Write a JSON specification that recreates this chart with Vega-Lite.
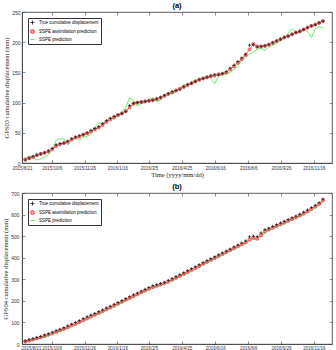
{
  "$schema": "https://vega.github.io/schema/vega-lite/v6.json",
  "padding": {"left": 2, "top": 1, "right": 3, "bottom": 0},
  "spacing": 3,
  "datasets": {
    "a": [
      {"d":"2015-08-26","T":5,"A":6,"P":6},{"d":"2015-09-01","T":8,"A":8,"P":12},{"d":"2015-09-07","T":11,"A":10,"P":9},{"d":"2015-09-13","T":13,"A":13,"P":5},{"d":"2015-09-19","T":15,"A":15,"P":7},{"d":"2015-09-25","T":17,"A":17,"P":10},
      {"d":"2015-10-01","T":20,"A":19,"P":14},{"d":"2015-10-07","T":24,"A":23,"P":22},{"d":"2015-10-13","T":30,"A":28,"P":38},{"d":"2015-10-19","T":32,"A":31,"P":40},{"d":"2015-10-25","T":33,"A":33,"P":40},{"d":"2015-10-31","T":36,"A":35,"P":30},
      {"d":"2015-11-06","T":40,"A":39,"P":36},{"d":"2015-11-12","T":43,"A":42,"P":44},{"d":"2015-11-18","T":45,"A":44,"P":38},{"d":"2015-11-24","T":47,"A":47,"P":43},{"d":"2015-11-30","T":50,"A":49,"P":44},
      {"d":"2015-12-06","T":54,"A":52,"P":48},{"d":"2015-12-12","T":57,"A":56,"P":60},{"d":"2015-12-18","T":60,"A":59,"P":66},{"d":"2015-12-24","T":65,"A":63,"P":66},{"d":"2015-12-30","T":70,"A":68,"P":70},
      {"d":"2016-01-05","T":74,"A":72,"P":75},{"d":"2016-01-11","T":77,"A":76,"P":72},{"d":"2016-01-17","T":80,"A":79,"P":80},{"d":"2016-01-23","T":82,"A":82,"P":84},{"d":"2016-01-29","T":85,"A":86,"P":92},
      {"d":"2016-02-04","T":95,"A":92,"P":108},{"d":"2016-02-10","T":99,"A":98,"P":104},{"d":"2016-02-16","T":100,"A":100,"P":94},{"d":"2016-02-22","T":101,"A":101,"P":98},{"d":"2016-02-28","T":102,"A":102,"P":100},
      {"d":"2016-03-05","T":103,"A":103,"P":105},{"d":"2016-03-11","T":104,"A":104,"P":108},{"d":"2016-03-17","T":106,"A":106,"P":102},{"d":"2016-03-23","T":109,"A":108,"P":104},{"d":"2016-03-29","T":112,"A":111,"P":112},
      {"d":"2016-04-04","T":115,"A":114,"P":116},{"d":"2016-04-10","T":118,"A":117,"P":114},{"d":"2016-04-16","T":120,"A":120,"P":118},{"d":"2016-04-22","T":122,"A":123,"P":124},{"d":"2016-04-28","T":126,"A":126,"P":130},
      {"d":"2016-05-04","T":130,"A":129,"P":128},{"d":"2016-05-10","T":132,"A":132,"P":134},{"d":"2016-05-16","T":135,"A":135,"P":138},{"d":"2016-05-22","T":138,"A":138,"P":136},{"d":"2016-05-28","T":140,"A":140,"P":141},
      {"d":"2016-06-03","T":142,"A":142,"P":144},{"d":"2016-06-09","T":144,"A":144,"P":140},{"d":"2016-06-15","T":146,"A":145,"P":131},{"d":"2016-06-21","T":146,"A":147,"P":144},{"d":"2016-06-27","T":148,"A":148,"P":146},
      {"d":"2016-07-03","T":151,"A":150,"P":147},{"d":"2016-07-09","T":157,"A":155,"P":150},{"d":"2016-07-15","T":162,"A":160,"P":155},{"d":"2016-07-21","T":168,"A":166,"P":160},{"d":"2016-07-27","T":174,"A":172,"P":170},
      {"d":"2016-08-02","T":180,"A":179,"P":175},{"d":"2016-08-08","T":195,"A":188,"P":180},{"d":"2016-08-14","T":196,"A":197,"P":184},{"d":"2016-08-20","T":192,"A":193,"P":188},{"d":"2016-08-26","T":193,"A":193,"P":190},
      {"d":"2016-09-01","T":194,"A":194,"P":186},{"d":"2016-09-07","T":196,"A":196,"P":192},{"d":"2016-09-13","T":199,"A":199,"P":195},{"d":"2016-09-19","T":202,"A":202,"P":198},{"d":"2016-09-25","T":205,"A":205,"P":202},
      {"d":"2016-10-01","T":208,"A":208,"P":206},{"d":"2016-10-07","T":210,"A":210,"P":215},{"d":"2016-10-13","T":213,"A":213,"P":222},{"d":"2016-10-19","T":216,"A":216,"P":217},{"d":"2016-10-25","T":218,"A":218,"P":215},{"d":"2016-10-31","T":221,"A":221,"P":220},
      {"d":"2016-11-06","T":224,"A":224,"P":218},{"d":"2016-11-12","T":227,"A":227,"P":208},{"d":"2016-11-18","T":229,"A":229,"P":222},{"d":"2016-11-24","T":232,"A":232,"P":226},{"d":"2016-11-30","T":235,"A":235,"P":224}
    ],
    "b": [
      {"d":"2015-08-26","T":14,"A":12,"P":8},{"d":"2015-09-01","T":20,"A":16,"P":12},{"d":"2015-09-07","T":25,"A":21,"P":16},{"d":"2015-09-13","T":30,"A":26,"P":22},{"d":"2015-09-19","T":35,"A":31,"P":27},{"d":"2015-09-25","T":42,"A":37,"P":32},
      {"d":"2015-10-01","T":47,"A":43,"P":38},{"d":"2015-10-07","T":55,"A":49,"P":44},{"d":"2015-10-13","T":62,"A":56,"P":51},{"d":"2015-10-19","T":68,"A":63,"P":57},{"d":"2015-10-25","T":75,"A":70,"P":64},{"d":"2015-10-31","T":84,"A":78,"P":72},
      {"d":"2015-11-06","T":92,"A":86,"P":80},{"d":"2015-11-12","T":100,"A":94,"P":88},{"d":"2015-11-18","T":108,"A":102,"P":96},{"d":"2015-11-24","T":118,"A":111,"P":105},{"d":"2015-11-30","T":126,"A":119,"P":113},
      {"d":"2015-12-06","T":134,"A":128,"P":121},{"d":"2015-12-12","T":141,"A":136,"P":130},{"d":"2015-12-18","T":150,"A":144,"P":138},{"d":"2015-12-24","T":158,"A":152,"P":146},{"d":"2015-12-30","T":167,"A":161,"P":155},
      {"d":"2016-01-05","T":175,"A":169,"P":163},{"d":"2016-01-11","T":184,"A":178,"P":172},{"d":"2016-01-17","T":192,"A":187,"P":181},{"d":"2016-01-23","T":201,"A":196,"P":190},{"d":"2016-01-29","T":210,"A":205,"P":199},
      {"d":"2016-02-04","T":219,"A":213,"P":207},{"d":"2016-02-10","T":228,"A":222,"P":216},{"d":"2016-02-16","T":236,"A":231,"P":225},{"d":"2016-02-22","T":245,"A":240,"P":234},{"d":"2016-02-28","T":253,"A":248,"P":242},
      {"d":"2016-03-05","T":262,"A":256,"P":250},{"d":"2016-03-11","T":270,"A":264,"P":258},{"d":"2016-03-17","T":275,"A":270,"P":265},{"d":"2016-03-23","T":280,"A":276,"P":271},{"d":"2016-03-29","T":286,"A":282,"P":277},
      {"d":"2016-04-04","T":295,"A":289,"P":284},{"d":"2016-04-10","T":303,"A":298,"P":292},{"d":"2016-04-16","T":312,"A":307,"P":301},{"d":"2016-04-22","T":321,"A":316,"P":310},{"d":"2016-04-28","T":330,"A":325,"P":319},
      {"d":"2016-05-04","T":340,"A":334,"P":328},{"d":"2016-05-10","T":349,"A":343,"P":337},{"d":"2016-05-16","T":358,"A":352,"P":346},{"d":"2016-05-22","T":367,"A":362,"P":356},{"d":"2016-05-28","T":377,"A":372,"P":366},
      {"d":"2016-06-03","T":386,"A":381,"P":375},{"d":"2016-06-09","T":395,"A":390,"P":384},{"d":"2016-06-15","T":404,"A":399,"P":393},{"d":"2016-06-21","T":413,"A":408,"P":402},{"d":"2016-06-27","T":422,"A":417,"P":411},
      {"d":"2016-07-03","T":431,"A":426,"P":420},{"d":"2016-07-09","T":440,"A":435,"P":429},{"d":"2016-07-15","T":450,"A":444,"P":438},{"d":"2016-07-21","T":459,"A":453,"P":447},{"d":"2016-07-27","T":468,"A":462,"P":456},
      {"d":"2016-08-02","T":478,"A":471,"P":465},{"d":"2016-08-08","T":497,"A":484,"P":476},{"d":"2016-08-14","T":500,"A":492,"P":485},{"d":"2016-08-20","T":498,"A":488,"P":486},{"d":"2016-08-26","T":515,"A":505,"P":497},
      {"d":"2016-09-01","T":530,"A":522,"P":514},{"d":"2016-09-07","T":537,"A":531,"P":525},{"d":"2016-09-13","T":545,"A":539,"P":533},{"d":"2016-09-19","T":553,"A":547,"P":541},{"d":"2016-09-25","T":561,"A":555,"P":549},
      {"d":"2016-10-01","T":569,"A":563,"P":557},{"d":"2016-10-07","T":577,"A":571,"P":565},{"d":"2016-10-13","T":585,"A":579,"P":573},{"d":"2016-10-19","T":593,"A":587,"P":581},{"d":"2016-10-25","T":601,"A":596,"P":589},{"d":"2016-10-31","T":611,"A":605,"P":598},
      {"d":"2016-11-06","T":621,"A":615,"P":608},{"d":"2016-11-12","T":632,"A":626,"P":619},{"d":"2016-11-18","T":643,"A":637,"P":630},{"d":"2016-11-24","T":655,"A":649,"P":641},{"d":"2016-11-30","T":672,"A":666,"P":658}
    ]
  },
  "resolve": {"scale": {"color": "independent", "shape": "independent", "x": "independent", "y": "independent"}, "legend": {"color": "independent", "shape": "independent"}},
  "vconcat": [
    {
      "title": {"text": "(a)"},
      "width": 310, "height": 151,
      "data": {"name": "a"},
      "resolve": {"axis": {"x": "independent", "y": "independent"}},
      "layer": [
        {
          "mark": {"type": "line", "color": "#3ded3d", "strokeWidth": 0.8},
          "encoding": {
            "x": {"field": "d", "type": "temporal", "scale": {"domain": [{"year": 2015, "month": 8, "date": 21}, {"year": 2016, "month": 12, "date": 14}]},
              "axis": {"orient": "top", "labels": false, "title": null, "domain": false, "tickSize": -3,
                "values": [{"year":2015,"month":8,"date":21},{"year":2015,"month":10,"date":6},{"year":2015,"month":11,"date":26},{"year":2016,"month":1,"date":16},{"year":2016,"month":3,"date":5},{"year":2016,"month":4,"date":25},{"year":2016,"month":6,"date":16},{"year":2016,"month":8,"date":6},{"year":2016,"month":9,"date":26},{"year":2016,"month":11,"date":16}]}},
            "y": {"field": "P", "type": "quantitative", "scale": {"domain": [0, 250], "nice": false},
              "axis": {"orient": "right", "labels": false, "title": null, "domain": false, "tickSize": -3, "values": [0, 50, 100, 150, 200, 250]}}
          }
        },
        {
          "mark": {"type": "line", "color": "#e8383d", "strokeWidth": 0.8},
          "encoding": {
            "x": {"field": "d", "type": "temporal",
              "axis": {"orient": "bottom", "title": "Time  (yyyy/mm/dd)", "format": "%Y/%-m/%-d", "tickSize": -3, "labelPadding": 5, "labelOverlap": false, "labelFlush": false, "labelFontSize": 4.5,
                "values": [{"year":2015,"month":8,"date":21},{"year":2015,"month":10,"date":6},{"year":2015,"month":11,"date":26},{"year":2016,"month":1,"date":16},{"year":2016,"month":3,"date":5},{"year":2016,"month":4,"date":25},{"year":2016,"month":6,"date":16},{"year":2016,"month":8,"date":6},{"year":2016,"month":9,"date":26},{"year":2016,"month":11,"date":16}]}},
            "y": {"field": "A", "type": "quantitative",
              "axis": {"orient": "left", "title": "GPS03  cumulative displacement  (mm)", "tickSize": -3, "labelPadding": 5, "values": [0, 50, 100, 150, 200, 250]}}
          }
        },
        {
          "transform": [{"fold": ["A", "T"], "as": ["s", "v"]}],
          "mark": {"type": "point", "filled": false, "fill": "#f49a9a", "strokeWidth": 0.7, "size": 10, "opacity": 1},
          "encoding": {
            "x": {"field": "d", "type": "temporal", "axis": null},
            "y": {"field": "v", "type": "quantitative", "axis": null},
            "color": {"field": "s", "type": "nominal", "scale": {"domain": ["T", "A", "P"], "range": ["#111111", "#e8383d", "#3ded3d"]},
              "legend": {"title": null, "orient": "top-left", "offset": 6, "fillColor": "white", "strokeColor": "#333", "padding": 2, "labelFontSize": 4.5, "labelFont": "Liberation Sans", "symbolSize": 16, "rowPadding": 0, "symbolStrokeWidth": 0.8,
                "labelExpr": "datum.label == 'T' ? 'True cumulative displacement' : datum.label == 'A' ? 'SSPE assimilation prediction' : 'SSPE prediction'"}},
            "shape": {"field": "s", "type": "nominal", "scale": {"domain": ["T", "A", "P"], "range": ["M-1,0H1M0,-1V1", "circle", "stroke"]}}
          }
        }
      ]
    },
    {
      "title": {"text": "(b)"},
      "width": 310, "height": 151,
      "data": {"name": "b"},
      "resolve": {"axis": {"x": "independent", "y": "independent"}},
      "layer": [
        {
          "mark": {"type": "line", "color": "#3ded3d", "strokeWidth": 0.8},
          "encoding": {
            "x": {"field": "d", "type": "temporal", "scale": {"domain": [{"year": 2015, "month": 8, "date": 21}, {"year": 2016, "month": 12, "date": 14}]},
              "axis": {"orient": "top", "labels": false, "title": null, "domain": false, "tickSize": -3,
                "values": [{"year":2015,"month":8,"date":21},{"year":2015,"month":10,"date":6},{"year":2015,"month":11,"date":26},{"year":2016,"month":1,"date":16},{"year":2016,"month":3,"date":5},{"year":2016,"month":4,"date":25},{"year":2016,"month":6,"date":16},{"year":2016,"month":8,"date":6},{"year":2016,"month":9,"date":26},{"year":2016,"month":11,"date":16}]}},
            "y": {"field": "P", "type": "quantitative", "scale": {"domain": [0, 700], "nice": false},
              "axis": {"orient": "right", "labels": false, "title": null, "domain": false, "tickSize": -3, "values": [0, 100, 200, 300, 400, 500, 600, 700]}}
          }
        },
        {
          "mark": {"type": "line", "color": "#e8383d", "strokeWidth": 0.8},
          "encoding": {
            "x": {"field": "d", "type": "temporal",
              "axis": {"orient": "bottom", "title": null, "format": "%Y/%-m/%-d", "tickSize": -3, "labelPadding": 4, "labelOverlap": false, "labelFlush": true, "labelFlushOffset": 1, "labelFontSize": 4.5,
                "values": [{"year":2015,"month":8,"date":21},{"year":2015,"month":10,"date":6},{"year":2015,"month":11,"date":26},{"year":2016,"month":1,"date":16},{"year":2016,"month":3,"date":5},{"year":2016,"month":4,"date":25},{"year":2016,"month":6,"date":16},{"year":2016,"month":8,"date":6},{"year":2016,"month":9,"date":26},{"year":2016,"month":11,"date":16}]}},
            "y": {"field": "A", "type": "quantitative",
              "axis": {"orient": "left", "title": "GPS04  cumulative displacement  (mm)", "tickSize": -3, "labelPadding": 6, "values": [0, 100, 200, 300, 400, 500, 600, 700]}}
          }
        },
        {
          "transform": [{"fold": ["A", "T"], "as": ["s", "v"]}],
          "mark": {"type": "point", "filled": false, "fill": "#f49a9a", "strokeWidth": 0.7, "size": 10, "opacity": 1},
          "encoding": {
            "x": {"field": "d", "type": "temporal", "axis": null},
            "y": {"field": "v", "type": "quantitative", "axis": null},
            "color": {"field": "s", "type": "nominal", "scale": {"domain": ["T", "A", "P"], "range": ["#111111", "#e8383d", "#3ded3d"]},
              "legend": {"title": null, "orient": "top-left", "offset": 6, "fillColor": "white", "strokeColor": "#333", "padding": 2, "labelFontSize": 4.5, "labelFont": "Liberation Sans", "symbolSize": 16, "rowPadding": 0, "symbolStrokeWidth": 0.8,
                "labelExpr": "datum.label == 'T' ? 'True cumulative displacement' : datum.label == 'A' ? 'SSPE assimilation prediction' : 'SSPE prediction'"}},
            "shape": {"field": "s", "type": "nominal", "scale": {"domain": ["T", "A", "P"], "range": ["M-1,0H1M0,-1V1", "circle", "stroke"]}}
          }
        }
      ]
    }
  ],
  "config": {
    "view": {"stroke": "#333", "strokeWidth": 0.8},
    "axis": {"grid": false, "labelFont": "Liberation Sans", "labelFontSize": 5, "labelColor": "#333", "titleFont": "Liberation Serif", "titleFontSize": 6.5, "titleFontWeight": "normal", "titleColor": "#222", "tickColor": "#444", "domainColor": "#444", "tickWidth": 0.6, "domainWidth": 0.8, "titlePadding": 2},
    "title": {"fontSize": 7.5, "fontWeight": "bold", "font": "Liberation Sans", "offset": 1, "anchor": "middle"}
  }
}
